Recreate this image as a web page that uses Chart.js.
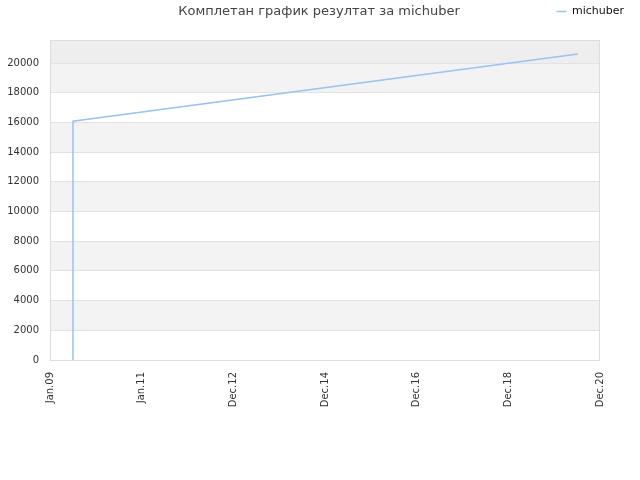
<!DOCTYPE html>
<html lang="sr">
<head>
    <meta charset="UTF-8">
    <title>Комплетан график резултат за michuber</title>
    <style>
        body, html {
            margin: 0;
            padding: 0;
            background: #fff;
        }
        #chart {
            width: 640px;
            height: 480px;
        }
    </style>
</head>
<body>
<div id="chart">
    <canvas id="myChart" width="640" height="480"></canvas>
</div>

<script src="https://cdn.jsdelivr.net/npm/chart.js"></script>
<script type="text/javascript">
    // подаци са графика
    var chartTitle = 'Комплетан график резултат за michuber';
    var playerName = 'michuber';
    var tickLabels = ['Jan.09', 'Jan.11', 'Dec.12', 'Dec.14', 'Dec.16', 'Dec.18', 'Dec.20'];
    var rangeStart = '2009-01-01';
    var rangeEnd = '2020-12-31';
    var dates = ['2009-07-03', '2009-07-03', '2020-07-09'];
    var ratings = [0, 16080, 20600];
    var yMax = 21550;
    var yStep = 2000;

    var xMin = Date.parse(rangeStart);
    var xMax = Date.parse(rangeEnd);
    var points = dates.map(function(d, i) {
        return {x: Date.parse(d), y: ratings[i]};
    });

    // наизменичне траке и оквир
    var bandsPlugin = {
        id: 'bands',
        beforeDraw: function(chart) {
            var ctx = chart.ctx;
            var area = chart.chartArea;
            var y = chart.scales.y;
            ctx.save();
            for (var i = 0; i < y.ticks.length - 1; i++) {
                if (i % 2 === 1) {
                    var top = y.getPixelForValue(y.ticks[i + 1].value);
                    var bottom = y.getPixelForValue(y.ticks[i].value);
                    ctx.fillStyle = '#f3f3f3';
                    ctx.fillRect(area.left, top, area.right - area.left, bottom - top);
                }
            }
            var last = y.getPixelForValue(y.ticks[y.ticks.length - 1].value);
            ctx.fillStyle = '#eeeeee';
            ctx.fillRect(area.left, area.top, area.right - area.left, last - area.top);
            ctx.restore();
        },
        beforeDatasetsDraw: function(chart) {
            var ctx = chart.ctx;
            var area = chart.chartArea;
            ctx.save();
            ctx.strokeStyle = '#dddddd';
            ctx.lineWidth = 1;
            ctx.strokeRect(area.left + 0.5, area.top + 0.5, area.right - area.left - 1, area.bottom - area.top);
            ctx.restore();
        }
    };

    // наслов у истом реду као легенда
    var titlePlugin = {
        id: 'rowTitle',
        beforeInit: function(chart) {
            var fit = chart.legend.fit;
            chart.legend.fit = function() {
                fit.bind(chart.legend)();
                this.height = 40;
            };
        },
        afterDraw: function(chart) {
            var ctx = chart.ctx;
            ctx.save();
            ctx.font = '13px "DejaVu Sans", sans-serif';
            ctx.fillStyle = '#444444';
            ctx.textAlign = 'center';
            ctx.textBaseline = 'middle';
            ctx.fillText(chartTitle, 319, 12);
            ctx.restore();
        }
    };

    var ctx = document.getElementById('myChart').getContext('2d');
    window.myChart = new Chart(ctx, {
        type: 'line',
        data: {
            datasets: [{
                label: playerName,
                data: points,
                borderColor: 'rgb(150, 196, 244)',
                backgroundColor: 'rgb(150, 196, 244)',
                borderWidth: 1.5,
                pointRadius: 0,
                pointStyle: 'line',
                tension: 0,
                fill: false
            }]
        },
        plugins: [bandsPlugin, titlePlugin],
        options: {
            responsive: false,
            animation: false,
            layout: {
                padding: {left: 0, right: 10, top: 0, bottom: 0}
            },
            plugins: {
                title: {display: false},
                tooltip: {enabled: false},
                legend: {
                    position: 'top',
                    align: 'end',
                    labels: {
                        usePointStyle: true,
                        pointStyleWidth: 10,
                        padding: 6,
                        color: '#111',
                        font: {family: '"DejaVu Sans", sans-serif', size: 11}
                    }
                }
            },
            scales: {
                x: {
                    type: 'linear',
                    min: xMin,
                    max: xMax,
                    afterBuildTicks: function(scale) {
                        var n = tickLabels.length - 1;
                        scale.ticks = tickLabels.map(function(l, i) {
                            return {value: xMin + i * (xMax - xMin) / n};
                        });
                    },
                    afterFit: function(scale) {
                        scale.height = 120;
                    },
                    grid: {display: false, drawTicks: false},
                    border: {display: false},
                    ticks: {
                        minRotation: 90,
                        maxRotation: 90,
                        padding: 12,
                        color: '#333',
                        font: {family: '"DejaVu Sans", sans-serif', size: 10},
                        callback: function(value, index) {
                            return tickLabels[index];
                        }
                    }
                },
                y: {
                    min: 0,
                    max: yMax,
                    afterBuildTicks: function(scale) {
                        var ticks = [];
                        for (var v = 0; v <= yMax; v += yStep) {
                            ticks.push({value: v});
                        }
                        scale.ticks = ticks;
                    },
                    afterFit: function(scale) {
                        scale.width = 50;
                    },
                    grid: {color: '#e2e2e2', drawTicks: false},
                    border: {display: false},
                    ticks: {
                        padding: 11,
                        color: '#333',
                        font: {family: '"DejaVu Sans", sans-serif', size: 10},
                        callback: function(value) {
                            return String(value);
                        }
                    }
                },
                yRight: {
                    position: 'right',
                    display: true,
                    afterFit: function(scale) {
                        scale.width = 30;
                    },
                    grid: {display: false, drawTicks: false},
                    border: {display: false},
                    ticks: {display: false}
                }
            }
        }
    });
</script>
</body>
</html>
